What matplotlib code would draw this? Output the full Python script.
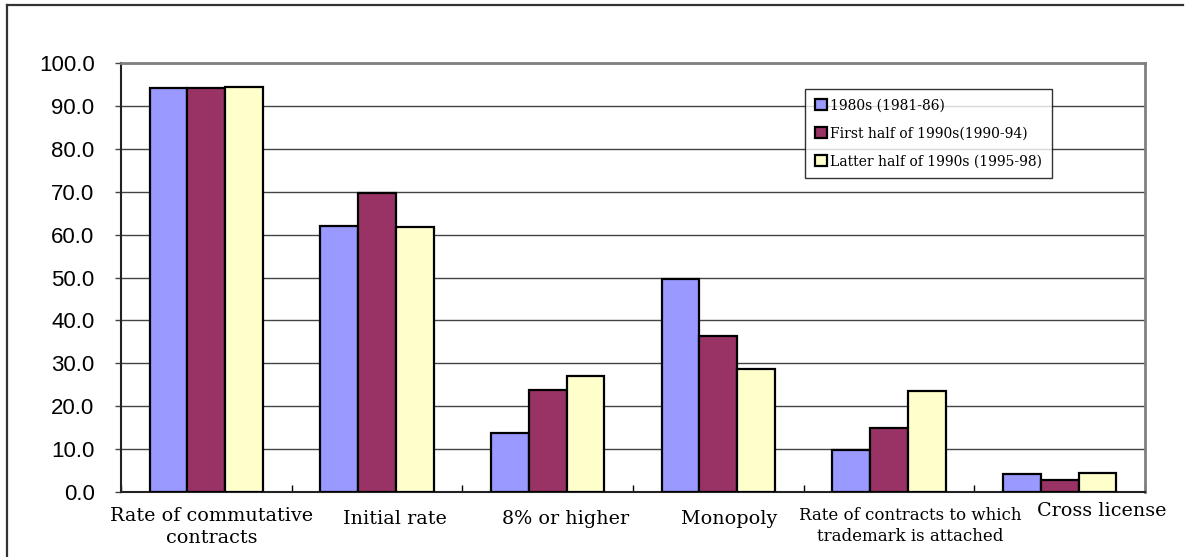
import numpy as np
import matplotlib
matplotlib.use("Agg")
import matplotlib.pyplot as plt
from matplotlib.lines import Line2D
from matplotlib.patches import Patch
from matplotlib.transforms import ScaledTranslation

# Categories and series (percent of contracts)
categories = [
    "Rate of commutative\ncontracts",
    "Initial rate",
    "8% or higher",
    "Monopoly",
    "Rate of contracts to which\ntrademark is attached",
    "Cross license",
]
series_names = [
    "1980s (1981-86)",
    "First half of 1990s(1990-94)",
    "Latter half of 1990s (1995-98)",
]
v_1980s = [94.1, 62.0, 13.7, 49.6, 9.8, 4.2]
v_early90s = [94.2, 69.7, 23.7, 36.3, 14.9, 2.7]
v_late90s = [94.4, 61.7, 27.1, 28.7, 23.6, 4.4]
yticks = np.arange(0, 101, 10)

colors = ["#9999FF", "#993366", "#FFFFCC"]
# per-label shifts (points) and sizes for the category captions
label_dx = [4, 13, 13, 8, 15, 30]
label_dy = [0, -2, -2, -2, 0, 4]
label_size = [13.8, 13.8, 13.8, 13.8, 12, 13.8]

fig = plt.figure(figsize=(11.86, 5.57), dpi=100)
ax = fig.add_axes([121 / 1186, 65 / 557, (1145 - 121) / 1186, (492 - 63) / 557])

x = np.arange(len(categories))
w = 0.222
for i, vals in enumerate([v_1980s, v_early90s, v_late90s]):
    ax.bar(x + (i - 1) * w, vals, width=w, color=colors[i],
           edgecolor="black", linewidth=1.6, label=series_names[i], zorder=3)

ax.set_xlim(-0.5, len(categories) - 0.5)
ax.set_ylim(0, 100)
ax.set_yticks(yticks)
ax.set_yticklabels([f"{v:.1f}" for v in yticks], fontsize=16,
                   family="Liberation Sans")
ax.yaxis.grid(True, color="#444444", linewidth=1.0, zorder=0)
ax.tick_params(axis="y", length=4, width=1, color="#444444", pad=15)

# category boundary ticks (inside, bottom)
ax.set_xticks(np.arange(len(categories) + 1) - 0.5, minor=True)
ax.tick_params(axis="x", which="minor", direction="in", length=5, width=1)
ax.set_xticks(x)
ax.set_xticklabels(categories, family="DejaVu Serif")
ax.tick_params(axis="x", which="major", length=0, pad=11)
for lab, dx, dy, fs in zip(ax.get_xticklabels(), label_dx, label_dy, label_size):
    lab.set_fontsize(fs)
    lab.set_linespacing(1.3)
    lab.set_transform(lab.get_transform() +
                      ScaledTranslation(dx / 72, dy / 72, fig.dpi_scale_trans))

for side in ["top", "right"]:
    ax.spines[side].set_color("#808080")
    ax.spines[side].set_linewidth(2)
for side in ["left", "bottom"]:
    ax.spines[side].set_color("#222222")
    ax.spines[side].set_linewidth(1.5)

handles = [Patch(facecolor=c, edgecolor="black", linewidth=1.6) for c in colors]
leg = ax.legend(handles, series_names, loc="upper left",
                bbox_to_anchor=(805 / 1186, 1 - 89 / 557),
                bbox_transform=fig.transFigure,
                prop={"family": "DejaVu Serif", "size": 10},
                frameon=True, fancybox=False, borderpad=0.7,
                handlelength=0.85, handleheight=0.85, handletextpad=0.25,
                labelspacing=1.0, borderaxespad=0)
leg.get_frame().set_edgecolor("black")
leg.get_frame().set_linewidth(1.0)
leg.set_zorder(5)

# outer chart frame (left and top edges)
fig.add_artist(Line2D([7 / 1186, 7 / 1186], [0, 1 - 5 / 557],
                      transform=fig.transFigure, color="#333333", linewidth=1.6))
fig.add_artist(Line2D([7 / 1186, 1183 / 1186], [1 - 5 / 557, 1 - 5 / 557],
                      transform=fig.transFigure, color="#333333", linewidth=1.6))

fig.savefig("out.png", dpi=100)
